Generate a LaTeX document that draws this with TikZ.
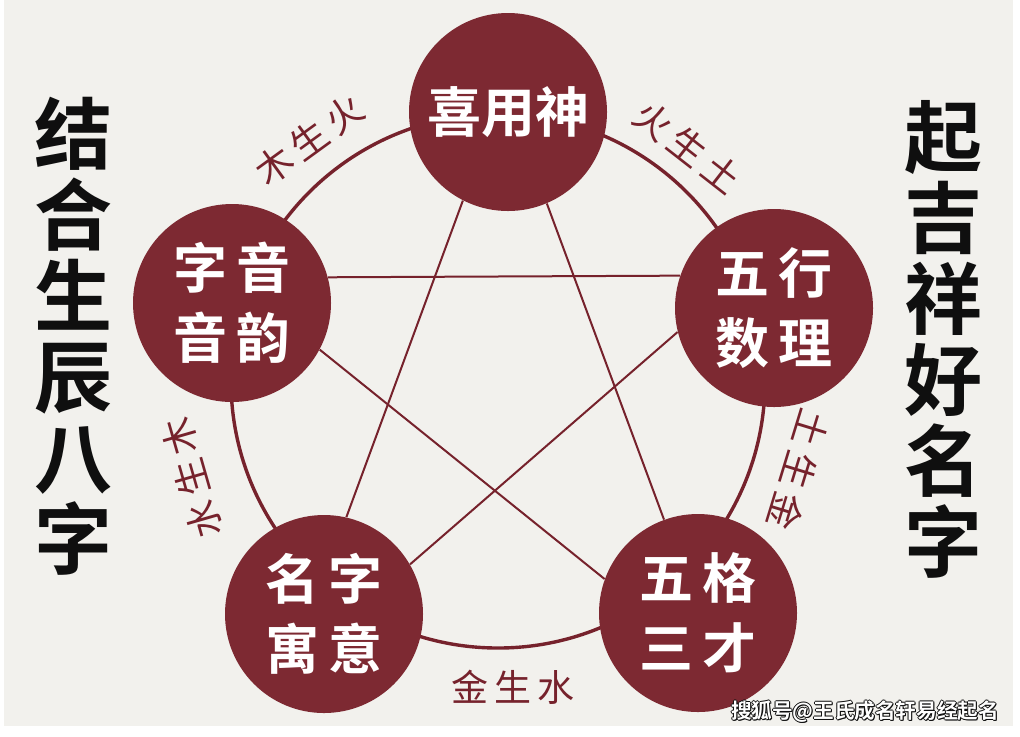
\documentclass[tikz,border=0pt]{standalone}
\usepackage{fontspec}
\newfontfamily\cjk{Noto Sans CJK SC}[BoldFont={Noto Sans CJK SC Bold}]
\usepackage{tikz}
\usetikzlibrary{positioning}
\usepackage{xcolor}
\definecolor{paper}{RGB}{242, 241, 237}
\definecolor{wine}{RGB}{125, 41, 50}
\definecolor{winedark}{RGB}{118, 34, 44}
\definecolor{inkblack}{RGB}{15, 15, 15}
\newcommand{\gap}{\hspace{3pt}}

\begin{document}
\begin{tikzpicture}[x=0.5pt, y=-0.5pt,
  bubble/.style={circle, fill=wine, minimum size=99pt, inner sep=0pt,
    text=white, align=center, font=\cjk\bfseries\fontsize{27}{35}\selectfont},
  link/.style={winedark, line width=1pt},
  arclabel/.style={text=winedark, inner sep=0pt,
    font=\cjk\fontsize{18.5}{18.5}\selectfont},
  column/.style={text=inkblack, align=center,
    font=\cjk\bfseries\fontsize{39}{40.5}\selectfont},
  wmtext/.style={inner sep=0pt, font=\cjk\bfseries\fontsize{10.3}{10.3}\selectfont}]
  \useasboundingbox (0,0) rectangle (1020,736);

  %--- paper ---
  \fill[white] (0,0) rectangle (1020,736);
  \fill[paper] (4,0) rectangle (1013,726);

  %--- ring ---
  \coordinate (hub) at (498,381);
  \draw[winedark, line width=1.7pt] (hub) circle[radius=133.5pt];

  %--- five circles ---
  \node[bubble] (xy) at (508,112) {喜用神};
  \node[bubble] (zy) at (232,303) {字\,音\\音\,韵};
  \node[bubble] (wx) at (774,308) {五\,行\\数\,理};
  \node[bubble] (my) at (324,614) {名\,字\\寓\,意};
  \node[bubble] (wg) at (698,613) {五\,格\\三\,才};

  %--- star ---
  \draw[link] (xy.-117) -- (my.77);
  \draw[link] (xy.-67) -- (wg.110);
  \draw[link] (zy.15) -- (wx.161);
  \draw[link] (zy.-28) -- (wg.160);
  \draw[link] (wx.194) -- (my.30);

  %--- ring labels ---
  \node[arclabel, rotate=36] (mh) at (309,140) {木\gap 生\gap 火};
  \node[arclabel, rotate=-38] (ht) at (688,147) {火\gap 生\gap 土};
  \node[arclabel, rotate=-107] (tj) at (799,470) {土\gap 生\gap 金};
  \node[arclabel] (js) at (513,687) {金\gap 生\gap 水};
  \node[arclabel, rotate=106] (sm) at (192,478) {水\gap 生\gap 木};

  %--- side columns ---
  \node[column] (left) at (73,336) {结\\合\\生\\辰\\八\\字};
  \node[column] (right) at (943,339) {起\\吉\\祥\\好\\名\\字};

  %--- watermark ---
  \foreach \dx/\dy [count=\i] in {-1/0, 1/0, 0/-1, 0/1, 1/1}
    \node[wmtext, text=inkblack] (wmshade\i) at (865+\dx,712+\dy)
      {搜狐号@王氏成名轩易经起名};
  \node[wmtext, text=white] (wm) at (865,712) {搜狐号@王氏成名轩易经起名};
\end{tikzpicture}
\end{document}
